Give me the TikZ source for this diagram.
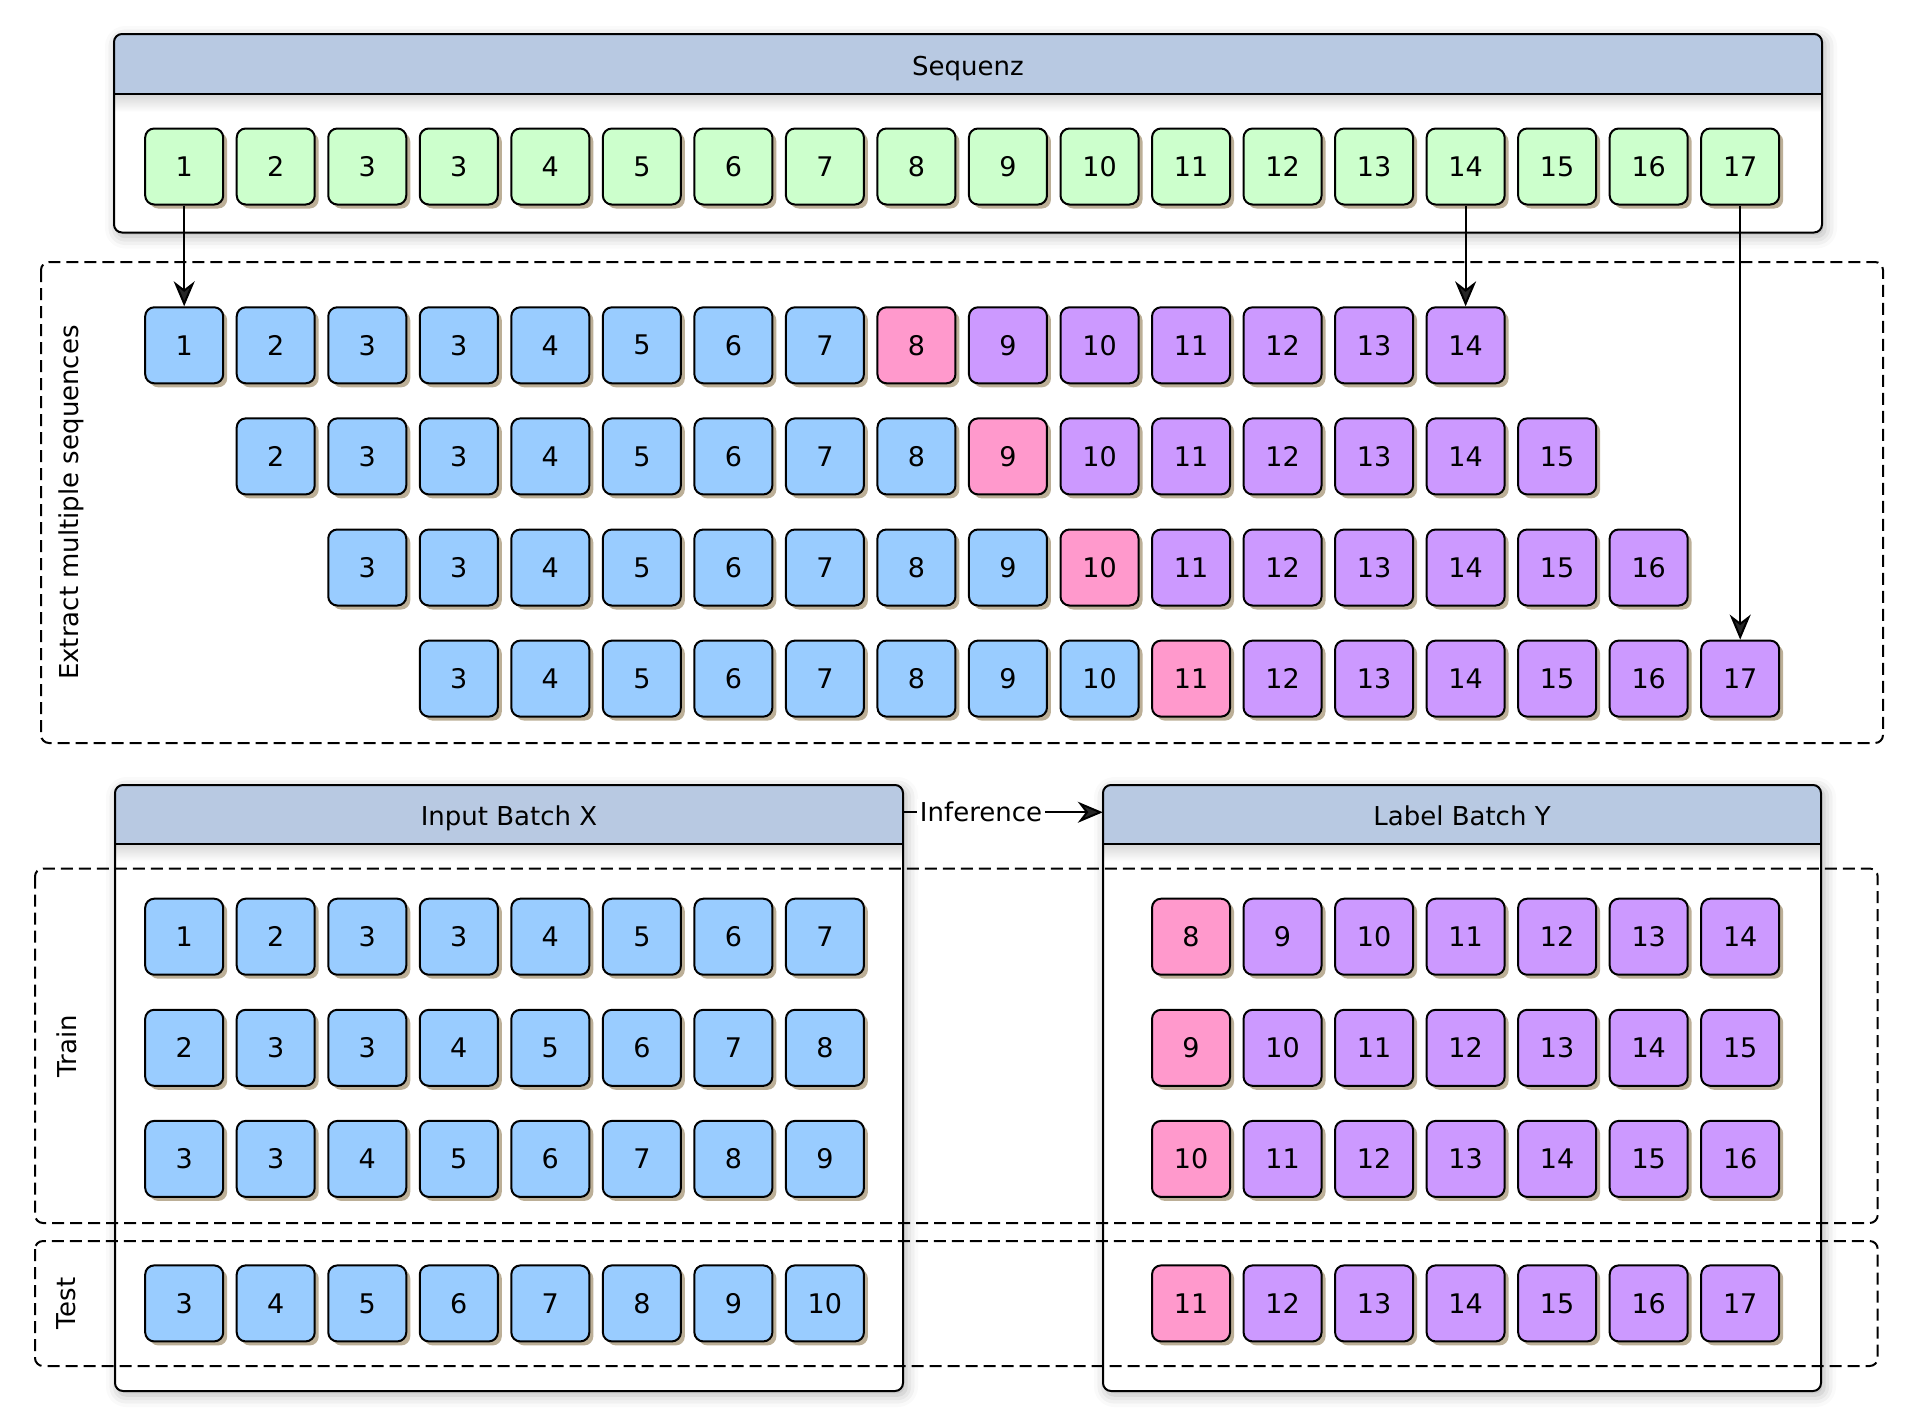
\documentclass[tikz,border=0pt]{standalone}
\usepackage{fontspec}
\setmainfont{DejaVu Sans}
\usetikzlibrary{arrows.meta, shadows, shadows.blur}
\definecolor{hdrblue}{HTML}{B8C9E2}
\definecolor{cgreen}{HTML}{CCFFCC}
\definecolor{cblue}{HTML}{99CCFF}
\definecolor{cpink}{HTML}{FF99CC}
\definecolor{cpurple}{HTML}{CC99FF}
\definecolor{shtan}{HTML}{BCAF97}

\newcommand\mkcont[7]{%
  \path[fill=white, rounded corners=8pt,
        blur shadow={shadow xshift=3pt, shadow yshift=-4pt, shadow blur radius=12pt, shadow opacity=30}]
        (#2,#3) rectangle (#4,#5);
  \begin{scope}
    \clip[rounded corners=8pt] (#2,#3) rectangle (#4,#5);
    \fill[hdrblue] (#2,#3) rectangle (#4,#6);
    \shade[top color=black!16, bottom color=white] (#2,#6) rectangle (#4,{#6+18});
  \end{scope}
  \draw[line width=2pt] (#2,#6) -- (#4,#6);
  \draw[line width=2pt, rounded corners=8pt] (#2,#3) rectangle (#4,#5);
  \node[hdr, minimum width={(#4-#2)*1pt}, minimum height={(#6-#3)*1pt}] (#1) at ({(#2+#4)/2},{(#3+#6)/2}) {#7};
}

\begin{document}
\begin{tikzpicture}[x=1pt, y=-1pt,
  font=\fontsize{26}{31}\selectfont,
  box/.style={draw=black, line width=2pt, rounded corners=9pt, minimum width=78pt,
              minimum height=76pt, inner sep=0pt, font=\fontsize{27}{32}\selectfont,
              drop shadow={shadow xshift=4pt, shadow yshift=-4pt, fill=shtan, opacity=1}},
  hdr/.style={inner sep=0pt, text height=23.4pt, text depth=0pt},
  region/.style={draw=black, line width=2pt, dash pattern=on 12pt off 6pt, rounded corners=8pt},
  arr/.style={line width=2pt, -{Stealth[length=25pt,width=21pt,inset=8pt]}},
  sidelabel/.style={rotate=90, inner sep=0pt},
]
\useasboundingbox (0,0) rectangle (1920,1425);

% containers
\mkcont{hs}{114}{34}{1822}{232.5}{94}{Sequenz}
\mkcont{hx}{115}{785}{903}{1391}{843.5}{Input Batch X}
\mkcont{hy}{1103}{785}{1821}{1391}{843.5}{Label Batch Y}

% dashed regions
\draw[region] (41,262) rectangle (1883,743);
\draw[region] (35,868.5) rectangle (1877.7,1223);
\draw[region] (35,1241) rectangle (1877.7,1366);

\node[sidelabel] (lext) at (71.7,502.5) {Extract multiple sequences};
\node[sidelabel] (ltrain) at (66.7,1046) {Train};
\node[sidelabel] (ltest) at (66.7,1303.4) {Test};

% sequence row
\foreach \c in {0,...,17} {
  \pgfmathtruncatemacro\v{\c<3 ? \c+1 : \c}
  \node[box, fill=cgreen] (s\c) at ({184.2+91.53*\c},166.5) {\v};
}

% extracted rows
\foreach \r in {0,...,3} {
  \foreach \k in {0,...,14} {
    \pgfmathtruncatemacro\c{\r+\k}
    \pgfmathtruncatemacro\v{\c<3 ? \c+1 : \c}
    \ifnum\k<8 \def\col{cblue}\else\ifnum\k=8 \def\col{cpink}\else\def\col{cpurple}\fi\fi
    \node[box, fill=\col] (e\r-\c) at ({184.2+91.53*\c},{345.3+111.1*\r}) {\v};
  }
}

% batches
\foreach \r/\yy in {0/936.7, 1/1047.8, 2/1158.9, 3/1303.4} {
  \foreach \k in {0,...,7} {
    \pgfmathtruncatemacro\c{\r+\k}
    \pgfmathtruncatemacro\v{\c<3 ? \c+1 : \c}
    \node[box, fill=cblue] (x\r-\k) at ({184.2+91.53*\k},\yy) {\v};
  }
  \foreach \k in {0,...,6} {
    \pgfmathtruncatemacro\v{\r+8+\k}
    \ifnum\k=0 \def\col{cpink}\else\def\col{cpurple}\fi
    \node[box, fill=\col] (y\r-\k) at ({184.2+91.53*(11+\k)},\yy) {\v};
  }
}

% connectors
\draw[arr] (s0.south) -- (e0-0.north);
\draw[arr] (s14.south) -- (e0-14.north);
\draw[arr] (s17.south) -- (e3-17.north);
\draw[arr] ([yshift=2pt]hx.east) -- node[pos=0.39, fill=white, inner sep=3pt] {Inference} ([yshift=2pt]hy.west);
\end{tikzpicture}
\end{document}
